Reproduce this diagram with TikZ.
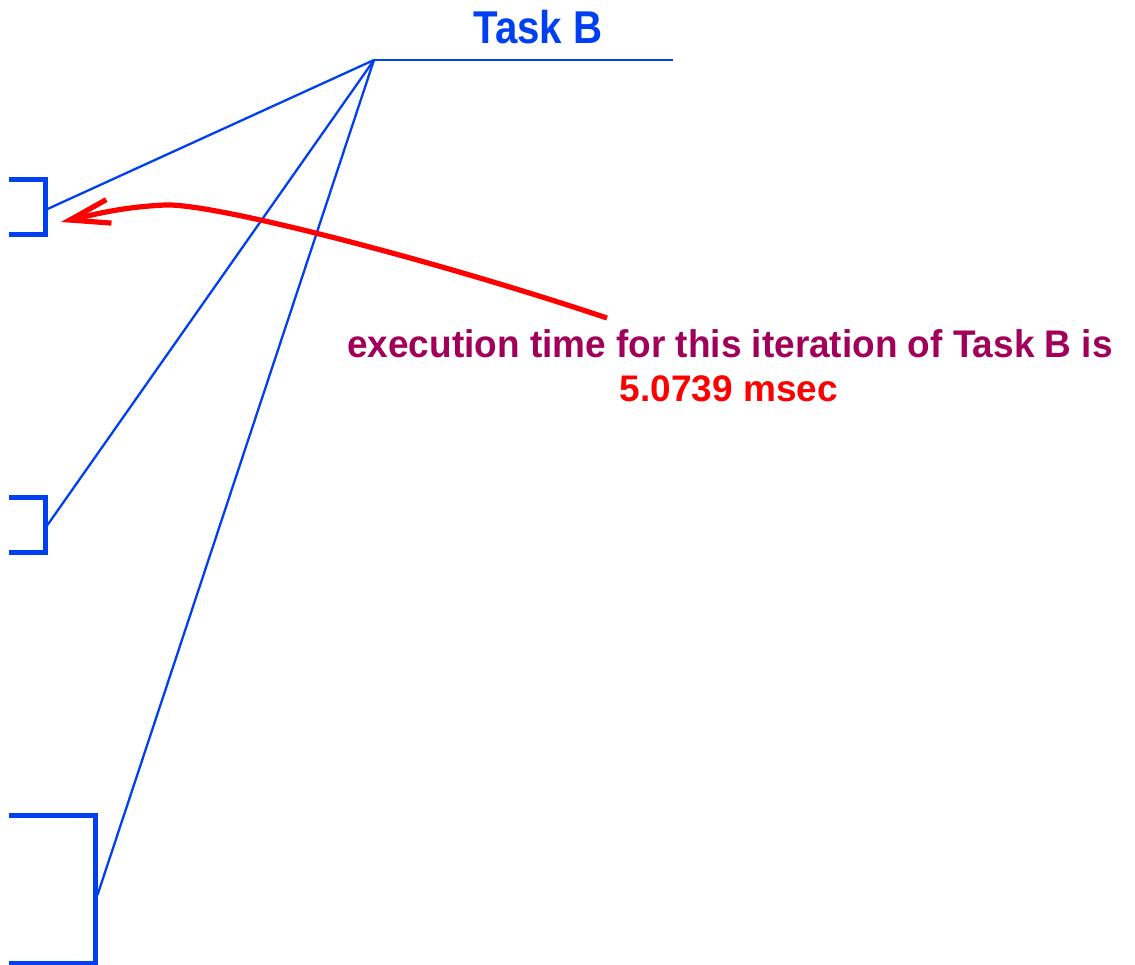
\documentclass[tikz,border=0pt]{standalone}
\usepackage{fontspec}
\setmainfont{Liberation Sans}
\usetikzlibrary{arrows.meta}
\definecolor{taskblue}{RGB}{0,64,240}
\definecolor{notepurple}{RGB}{160,0,90}
\definecolor{notered}{RGB}{255,0,0}
\begin{document}
\begin{tikzpicture}[x=1pt,y=-1pt,
  link/.style={draw=taskblue,line width=2.3pt},
  bracket/.style={draw=taskblue,line width=5pt,line join=miter},
  callout/.style={draw=notered,line width=5.2pt,
    -{Straight Barb[length=40pt,width=24pt]}},
  label/.style={inner sep=0pt,anchor=base,font=\bfseries}]
\useasboundingbox (0,0) rectangle (1135,964);
\clip (0,0) rectangle (1135,964);

% task header
\node[label,text=taskblue,font=\bfseries\fontsize{46}{52}\selectfont] (title) at (538,43) {\scalebox{0.875}[1]{Task B}};
\coordinate (apex) at (374,60);
\coordinate (rend) at (673,60);
\draw[link] (apex) -- (rend);

% brackets marking the iterations
\draw[bracket] (9,179) -- (45,179) -- (45,234.5) -- (9,234.5);
\draw[bracket] (9,497) -- (45,497) -- (45,552) -- (9,552);
\draw[bracket] (9,815) -- (95,815) -- (95,963) -- (9,963);
\coordinate (it1) at (47.5,209);
\coordinate (it2) at (47.5,525);
\coordinate (it3) at (97.5,895);

% fan of links from the header to each iteration
\draw[link] (apex) -- (it1);
\draw[link] (apex) -- (it2);
\draw[link] (apex) -- (it3);

% annotation
\node[label,text=notepurple,font=\bfseries\fontsize{38.5}{44}\selectfont] (note) at (730,357) {\scalebox{0.96}[1]{execution time for this iteration of Task B is}};
\node[label,text=notered,font=\bfseries\fontsize{37}{44}\selectfont] (value) at (729,401) {5.0739 msec};
\coordinate (from) at (607,318);
\coordinate (crest) at (165,205);
\coordinate (tip) at (61,222);
\draw[callout] (from) .. controls (440,262) and (215,203) .. (crest)
  .. controls (120,207) and (88,216) .. (tip);
\end{tikzpicture}
\end{document}
